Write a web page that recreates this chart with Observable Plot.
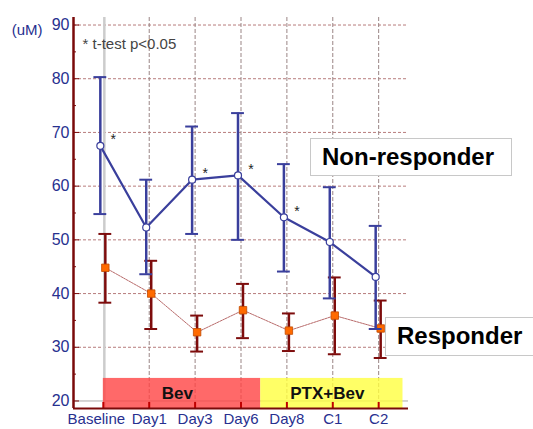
<!DOCTYPE html>
<html><head><meta charset="utf-8">
<script src="https://cdn.jsdelivr.net/npm/d3@7"></script>
<script src="https://cdn.jsdelivr.net/npm/@observablehq/plot@0.6"></script>
<style>
body{margin:0;background:#fff;}
#wrap{position:relative;width:533px;height:429px;font-family:"Liberation Sans",Arial,sans-serif;}
.lg{position:absolute;background:#fff;border:1px solid #c8c8c8;font-weight:bold;font-size:24px;color:#000;box-sizing:border-box;line-height:36px;padding-left:11px;white-space:nowrap;}
</style></head>
<body><div id="wrap"></div>
<script>
const categories = ["Baseline","Day1","Day3","Day6","Day8","C1","C2"];
const nonMean = [67.5, 52.3, 61.2, 62.0, 54.2, 49.6, 43.1];
const nonHigh = [80.3, 61.2, 71.1, 73.6, 64.1, 59.8, 52.6];
const nonLow  = [54.8, 43.6, 51.1, 50.0, 44.1, 39.1, 33.4];
const resMean = [44.8, 40.0, 32.8, 36.9, 33.1, 35.9, 33.5];
const resHigh = [51.1, 46.1, 35.9, 41.8, 36.3, 43.0, 38.7];
const resLow  = [38.3, 33.4, 29.2, 31.7, 29.3, 28.7, 28.0];
const significant = [true, false, true, true, true, false, false];
const phaseNames = ["Bev", "PTX+Bev"];
const phaseStart = [0, 3.43];
const phaseEnd = [3.43, 6.53];
const yTicks = [20, 30, 40, 50, 60, 70, 80, 90];
const yMinorTicks = [25, 35, 45, 55, 65, 75, 85];

const yDomain = [18.6, 91.4];
const xDomain = [-0.65, 6.65];

const non = categories.map((c, i) => ({i, c, mean: nonMean[i], hi: nonHigh[i], lo: nonLow[i], sig: significant[i]}));
const res = categories.map((c, i) => ({i, c, mean: resMean[i], hi: resHigh[i], lo: resLow[i]}));
const phases = phaseNames.map((n, k) => ({name: n, x1: phaseStart[k], x2: phaseEnd[k]}));
const cap = 0.14;

const navy = "#27308f";
const axisRed = "#7a0a0a";
const blue = "#3a3f9c";
const dred = "#7d0c0c";

const plot = Plot.plot({
  width: 533, height: 429,
  marginLeft: 73, marginRight: 125, marginTop: 17, marginBottom: 21,
  style: {fontFamily: "Liberation Sans, Arial, sans-serif", background: "#fff"},
  x: {type: "linear", domain: xDomain},
  y: {domain: yDomain},
  marks: [
    // grid
    Plot.ruleY(yTicks.filter(v => v > 20), {stroke: "#a45a5a", strokeWidth: 0.8, strokeDasharray: "3,2"}),
    Plot.ruleY([20], {stroke: "#aaaaaa", strokeWidth: 1}),
    Plot.ruleX([0], {stroke: "#cccccc", strokeWidth: 2.5, dx: 1}),
    Plot.ruleX([1,2,3,4,5,6], {stroke: "#9a8585", strokeWidth: 1, strokeDasharray: "4,2"}),
    // phases
    Plot.rectY(phases.slice(0,1), {x1: "x1", x2: "x2", y1: yDomain[0], y2: 24.2, fill: "#ff4444", fillOpacity: 0.8}),
    Plot.rectY(phases.slice(1), {x1: "x1", x2: "x2", y1: yDomain[0], y2: 24.2, fill: "#ffff40", fillOpacity: 0.8}),
    Plot.text(phases, {x: d => (d.x1 + d.x2) / 2 - 0.1, y: 21.4, text: "name", fontSize: 17, fontWeight: "bold", fill: "#111"}),
    // axes
    Plot.axisY(yTicks, {tickSize: 0, tickPadding: 4, fontSize: 16, fill: navy, color: navy}),
    Plot.axisY(yTicks, {text: null, tickSize: 6, dx: 6, stroke: axisRed, strokeWidth: 1}),
    Plot.axisY(yMinorTicks, {text: null, tickSize: 3, dx: 3, stroke: axisRed, strokeWidth: 1}),
    Plot.axisX([0], {tickSize: 0, tickPadding: 5, dx: -7, fontSize: 15, fill: navy, tickFormat: i => categories[i]}),
    Plot.axisX([1,2,3,4,5,6], {tickSize: 0, tickPadding: 5, fontSize: 15, fill: navy, tickFormat: i => categories[i]}),
    Plot.axisX([0,1,2,3,4,5,6], {text: null, tickSize: 6, dy: -6, stroke: "#c00000", strokeWidth: 2}),
    Plot.ruleX([xDomain[0]], {stroke: axisRed, strokeWidth: 2.5}),
    Plot.ruleY([yDomain[0]], {stroke: axisRed, strokeWidth: 2}),
    // responder
    Plot.line(res, {x: "i", y: "mean", dx: 2, stroke: "#b86a6a", strokeWidth: 1, strokeDasharray: "2,1"}),
    Plot.ruleX(res, {x: "i", y1: "lo", y2: "hi", dx: 2, stroke: dred, strokeWidth: 2.5}),
    Plot.ruleY(res, {y: "hi", x1: d => d.i - cap, x2: d => d.i + cap, dx: 2, stroke: dred, strokeWidth: 2}),
    Plot.ruleY(res, {y: "lo", x1: d => d.i - cap, x2: d => d.i + cap, dx: 2, stroke: dred, strokeWidth: 2}),
    Plot.dot(res, {x: "i", y: "mean", dx: 2, symbol: "square", r: 4.2, fill: "#ff6a00", stroke: "#c04a00", strokeWidth: 0.8}),
    // non-responder
    Plot.ruleX(non, {x: "i", y1: "lo", y2: "hi", dx: -3, stroke: blue, strokeWidth: 2.5}),
    Plot.ruleY(non, {y: "hi", x1: d => d.i - cap, x2: d => d.i + cap, dx: -3, stroke: blue, strokeWidth: 2}),
    Plot.ruleY(non, {y: "lo", x1: d => d.i - cap, x2: d => d.i + cap, dx: -3, stroke: blue, strokeWidth: 2}),
    Plot.line(non, {x: "i", y: "mean", dx: -3, stroke: blue, strokeWidth: 2.2}),
    Plot.dot(non, {x: "i", y: "mean", dx: -3, r: 3.5, fill: "#fff", stroke: blue, strokeWidth: 1.2}),
    Plot.text(non.filter(d => d.sig), {x: "i", y: "mean", text: () => "*", dx: 10, dy: -6, fontSize: 14, fill: "#222"}),
    // annotations
    Plot.text(["(uM)"], {frameAnchor: "top-left", text: d => d, textAnchor: "end", dx: -31, dy: 7, fontSize: 15, fill: navy}),
    Plot.text(["* t-test p<0.05"], {frameAnchor: "top-left", text: d => d, textAnchor: "start", dx: 9, dy: 21, fontSize: 15, fill: "#444"})
  ]
});
const wrap = document.getElementById("wrap");
wrap.appendChild(plot);
const l1 = document.createElement("div");
l1.className = "lg"; l1.textContent = "Non-responder";
Object.assign(l1.style, {left: "310px", top: "138px", width: "202px", height: "38px"});
const l2 = document.createElement("div");
l2.className = "lg"; l2.textContent = "Responder";
Object.assign(l2.style, {left: "385px", top: "317px", width: "160px", height: "39px"});
wrap.appendChild(l1); wrap.appendChild(l2);
</script></body></html>
